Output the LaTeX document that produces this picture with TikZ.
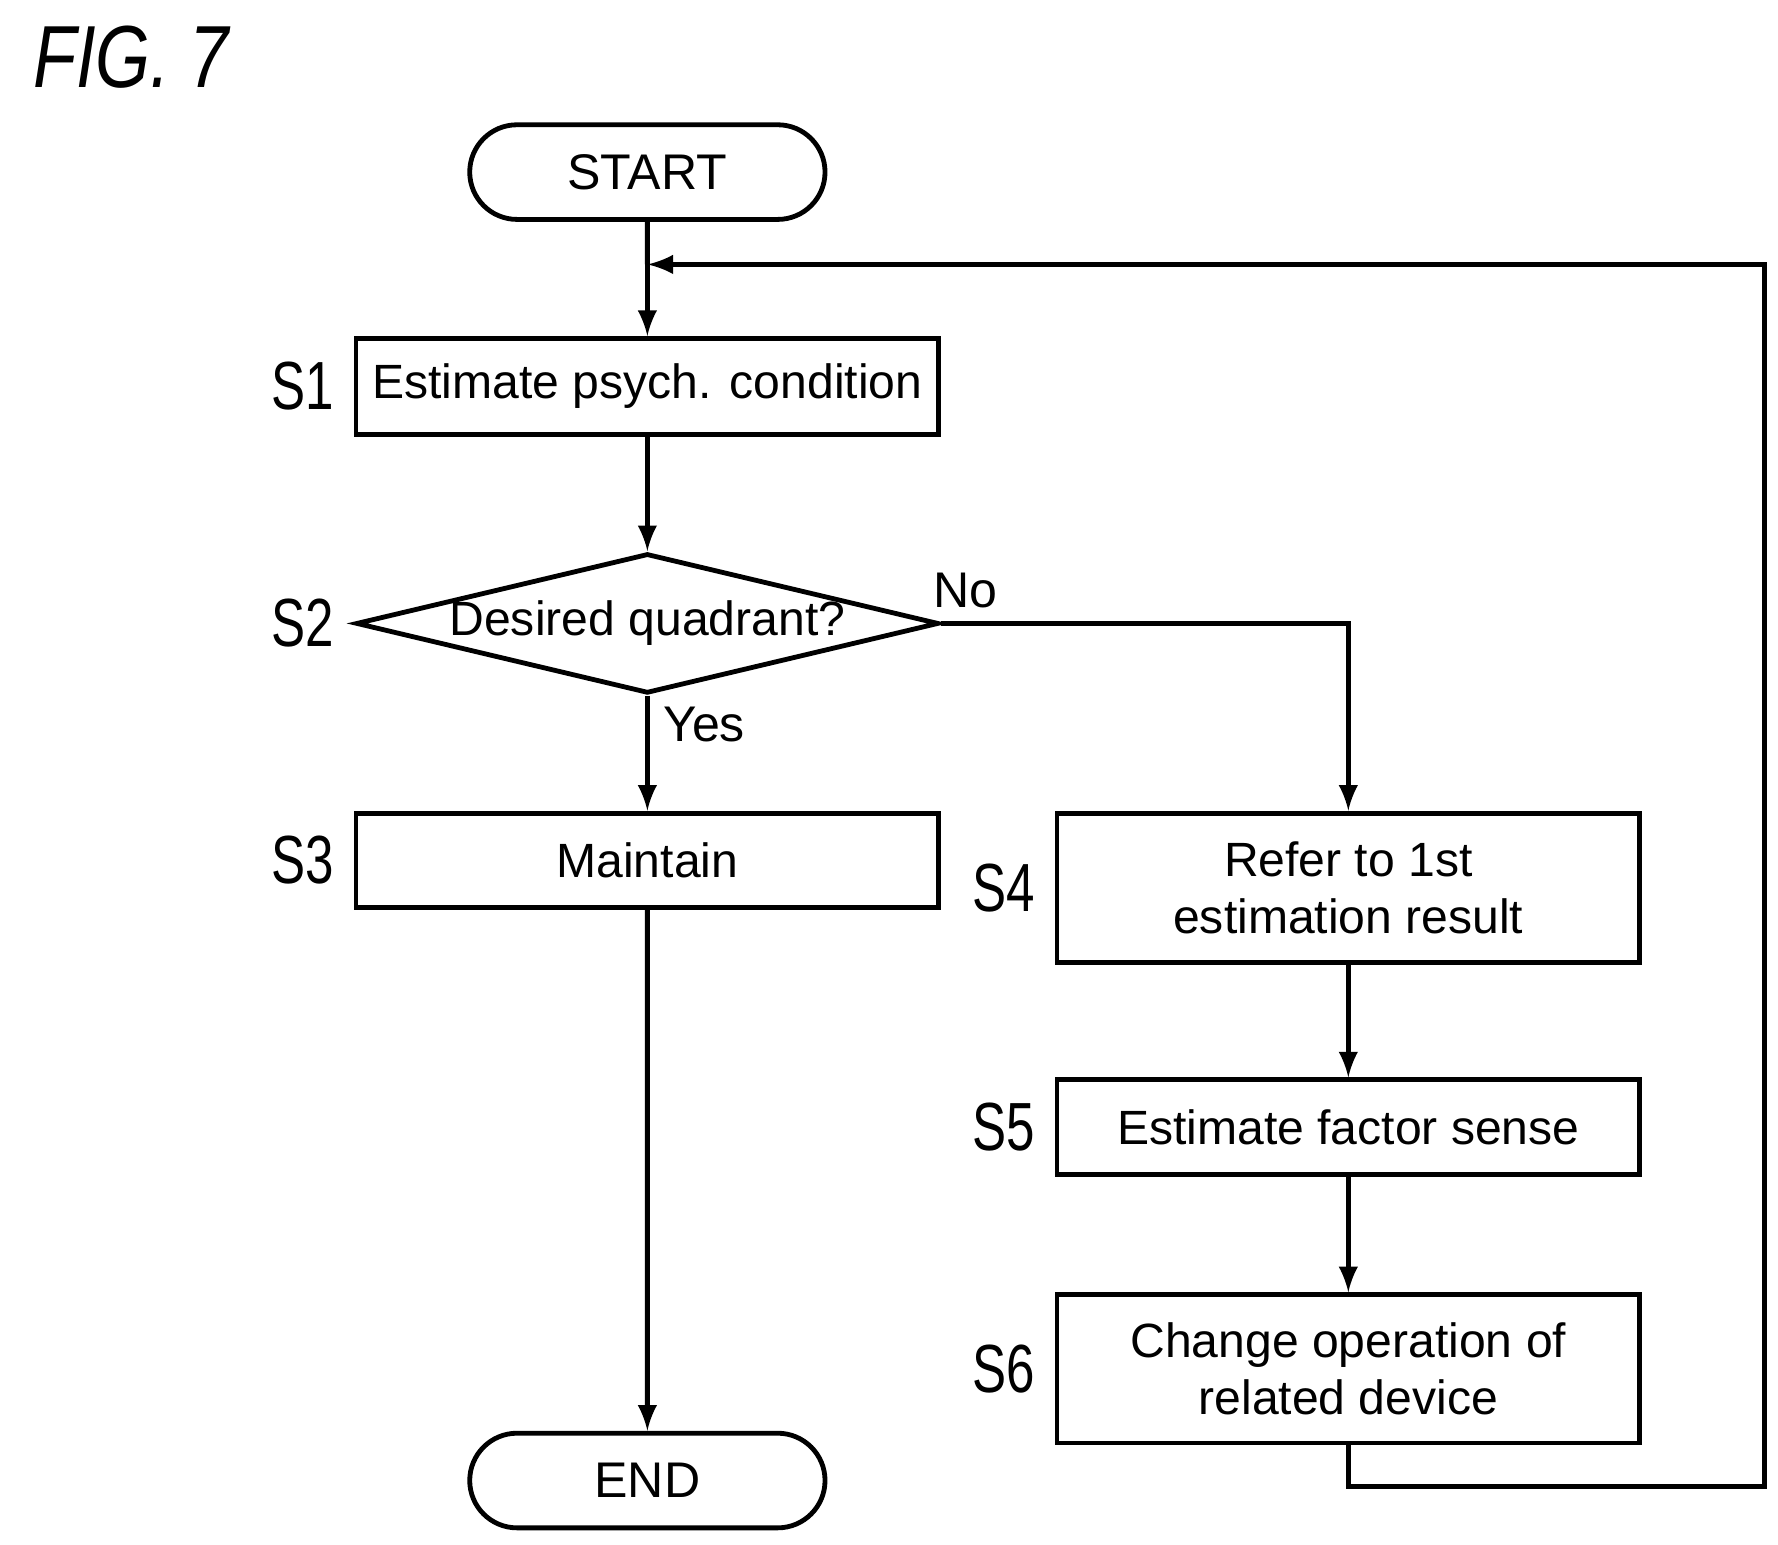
\documentclass[tikz,border=0pt]{standalone}
\usepackage{fontspec}
\setmainfont{Liberation Sans}
\usetikzlibrary{arrows,shapes.geometric,shapes.misc}
\begin{document}
\begin{tikzpicture}[
      x = 0.01cm, y = -0.01cm, line width = 1.2pt,
      Line/.style = {draw, -latex},
      Step/.style = {draw, rectangle, minimum width = 5.11cm, inner sep = 2pt, align = center, font = \fontsize{12}{14}\selectfont},
      Term/.style = {draw, rounded rectangle, minimum width = 3.35cm, minimum height = 0.83cm, font = \fontsize{12.5}{15}\selectfont},
      Label/.style = {font = \fontsize{17}{17}\selectfont}
    ]
    \useasboundingbox (0,0) rectangle (1560,1355);
    \node at (115,50) {\fontsize{22}{22}\selectfont\itshape\scalebox{0.8}[1]{FIG. 7}};

    \node at (568,151) [Term](start){START};
    \node at (568,339) [Step, minimum height = 0.84cm](s1){Estimate psych. condition};
    \node at (568,547) [draw, diamond, aspect = 4.17, minimum width = 5.09cm, minimum height = 1.22cm, inner sep = 0pt, font = \fontsize{12}{15}\selectfont](s2){Desired quadrant?};
    \node at (568,755) [Step, minimum height = 0.83cm](s3){Maintain};
    \node at (1183,779) [Step, minimum height = 1.31cm](s4){Refer to 1st\\estimation result};
    \node at (1183,989) [Step, minimum height = 0.83cm](s5){Estimate factor sense};
    \node at (1183,1201) [Step, minimum height = 1.30cm](s6){Change operation of\\related device};
    \node at (568,1299) [Term](stop){END};

    \foreach \s/\n in {s1/S1, s2/S2, s3/S3, s4/S4, s5/S5, s6/S6}
      \node[Label, left = 1pt] at (\s.west) {\scalebox{0.75}[1]{\n}};

    \coordinate (join) at (568,232);
    \coordinate (back) at (1548,1304);

    \path [draw] (start) -- (join);
    \path [Line] (join) -- (s1);
    \path [Line] (s1) -- (s2);
    \path [Line] (s2) -- node[right, pos = 0.25, font = \fontsize{12.5}{15}\selectfont]{Yes} (s3);
    \path [Line] (s2.east) -| node[above, pos = 0.03, font = \fontsize{12.5}{15}\selectfont]{No} (s4);
    \path [Line] (s4) -- (s5);
    \path [Line] (s5) -- (s6);
    \path [Line] (s3) -- (stop);
    \path [Line] (s6.south) |- (back) |- (join);
  \end{tikzpicture}
\end{document}
